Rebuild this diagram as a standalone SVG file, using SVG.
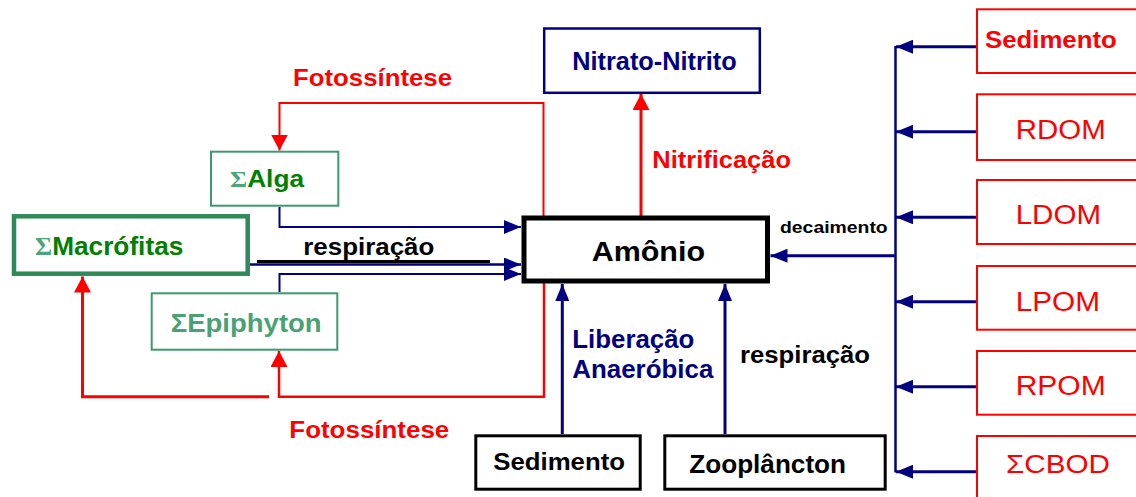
<svg xmlns="http://www.w3.org/2000/svg" width="1136" height="497" viewBox="0 0 1136 497">
<style>
text{font-family:"Liberation Sans",Arial,sans-serif;font-weight:bold}
.reg{font-weight:normal}
.red{fill:#ff0000}
.navy{fill:#000080}
.blk{fill:#000000}
.grn{fill:#008000}
.sig{fill:#4ca57a;font-family:"Liberation Serif","Times New Roman",serif}
.boxr{fill:#fff;stroke:#ff0000;stroke-width:2}
.boxg{fill:#fff;stroke:#3d9a6c;stroke-width:2}
.boxk{fill:#fff;stroke:#000;stroke-width:3}
.cr{fill:none;stroke:#ff0000}
.cn{fill:none;stroke:#000080}
</style>
<defs>
<marker id="ar" markerUnits="userSpaceOnUse" markerWidth="16" markerHeight="17" refX="16" refY="8.5" orient="auto">
<path d="M0,0 L16,8.5 L0,17 z" fill="#ff0000"/>
</marker>
<marker id="an" markerUnits="userSpaceOnUse" markerWidth="17" markerHeight="14" refX="17" refY="7" orient="auto">
<path d="M0,0 L17,7 L0,14 z" fill="#000080"/>
</marker>
</defs>
<rect width="1136" height="497" fill="#ffffff"/>
<g id="connectors">
<line class="cr" x1="641" y1="216" x2="641" y2="94" stroke-width="3" marker-end="url(#ar)"/>
<polyline class="cr" points="543.5,216 543.5,103 279.5,103 279.5,150.5" stroke-width="2" marker-end="url(#ar)"/>
<polyline class="cr" points="544,283 544,396.7 279,396.7 279,351" stroke-width="2.5" marker-end="url(#ar)"/>
<polyline class="cr" points="269,396.7 82.5,396.7 82.5,276.5" stroke-width="3" marker-end="url(#ar)"/>
<polyline class="cn" points="279.5,207 279.5,227 521,227" stroke-width="2" marker-end="url(#an)"/>
<line class="cn" x1="250" y1="264.5" x2="521" y2="264.5" stroke-width="2.5" marker-end="url(#an)"/>
<line x1="257" y1="261.5" x2="490" y2="261.5" stroke="#000" stroke-width="3"/>
<polyline class="cn" points="279.5,292 279.5,274 521,274" stroke-width="2" marker-end="url(#an)"/>
<line class="cn" x1="562.3" y1="434" x2="562.3" y2="284" stroke-width="3" marker-end="url(#an)"/>
<line class="cn" x1="725" y1="434" x2="725" y2="284" stroke-width="3" marker-end="url(#an)"/>
<line class="cn" x1="895.5" y1="46" x2="895.5" y2="472.5" stroke-width="2.5"/>
<line class="cn" x1="976" y1="46.7" x2="896" y2="46.7" stroke-width="3" marker-end="url(#an)"/>
<line class="cn" x1="976" y1="131.7" x2="896" y2="131.7" stroke-width="3" marker-end="url(#an)"/>
<line class="cn" x1="976" y1="217.3" x2="896" y2="217.3" stroke-width="3" marker-end="url(#an)"/>
<line class="cn" x1="976" y1="301.7" x2="896" y2="301.7" stroke-width="3" marker-end="url(#an)"/>
<line class="cn" x1="976" y1="386.7" x2="896" y2="386.7" stroke-width="3" marker-end="url(#an)"/>
<line class="cn" x1="976" y1="471.7" x2="896" y2="471.7" stroke-width="3" marker-end="url(#an)"/>
<line class="cn" x1="895.5" y1="255.7" x2="770.5" y2="255.7" stroke-width="3" marker-end="url(#an)"/>
<text class="red" x="293" y="86" font-size="24" textLength="159" lengthAdjust="spacingAndGlyphs">Fotossíntese</text>
<text class="red" x="289.3" y="438.3" font-size="23" textLength="160" lengthAdjust="spacingAndGlyphs">Fotossíntese</text>
<text class="red" x="652.3" y="167.7" font-size="23" textLength="138.7" lengthAdjust="spacingAndGlyphs">Nitrificação</text>
<text class="blk" x="780" y="233.3" font-size="17" textLength="107.7" lengthAdjust="spacingAndGlyphs">decaimento</text>
<text class="blk" x="303.3" y="255" font-size="23" textLength="131" lengthAdjust="spacingAndGlyphs">respiração</text>
<text class="blk" x="740" y="363.3" font-size="23" textLength="130" lengthAdjust="spacingAndGlyphs">respiração</text>
<text class="navy" x="572.3" y="348.3" font-size="25" textLength="122" lengthAdjust="spacingAndGlyphs">Liberação</text>
<text class="navy" x="572.3" y="378.3" font-size="25" textLength="141" lengthAdjust="spacingAndGlyphs">Anaeróbica</text>
</g>
<g id="nitrato">
<rect x="544.2" y="28.5" width="215.6" height="64.3" fill="#fff" stroke="#000080" stroke-width="2.5"/>
<text class="navy" x="572.3" y="70" font-size="26" textLength="164.4" lengthAdjust="spacingAndGlyphs">Nitrato-Nitrito</text>
</g>
<g id="amonio">
<rect x="524" y="218" width="243.5" height="63" fill="#fff" stroke="#000" stroke-width="5"/>
<text class="blk" x="591.7" y="261" font-size="28" textLength="113.3" lengthAdjust="spacingAndGlyphs">Amônio</text>
</g>
<g id="alga">
<rect class="boxg" x="211" y="151.7" width="127.3" height="54"/>
<text x="230" y="187.3" font-size="24" textLength="74" lengthAdjust="spacingAndGlyphs"><tspan class="sig">Σ</tspan><tspan class="grn">Alga</tspan></text>
</g>
<g id="macrofitas">
<rect x="14" y="216.3" width="233.7" height="57.4" fill="#fff" stroke="#2e8b57" stroke-width="4.5"/>
<text x="35" y="255" font-size="25.5" textLength="148.3" lengthAdjust="spacingAndGlyphs"><tspan class="sig">Σ</tspan><tspan class="grn">Macrófitas</tspan></text>
</g>
<g id="epiphyton">
<rect class="boxg" x="151.7" y="293.3" width="185.6" height="56.4"/>
<text x="170.7" y="332.3" font-size="25" textLength="151" lengthAdjust="spacingAndGlyphs" fill="#4aa274">ΣEpiphyton</text>
</g>
<g id="sedimento-base">
<rect class="boxk" x="475.8" y="435.8" width="164.4" height="53.4"/>
<text class="blk" x="493.3" y="470" font-size="24" textLength="131.7" lengthAdjust="spacingAndGlyphs">Sedimento</text>
</g>
<g id="zooplancton">
<rect class="boxk" x="664.8" y="435.8" width="220.4" height="53.4"/>
<text class="blk" x="689.3" y="473.3" font-size="25" textLength="156.7" lengthAdjust="spacingAndGlyphs">Zooplâncton</text>
</g>
<g id="sedimento">
<rect class="boxr" x="977" y="9.3" width="170" height="63.7"/>
<text class="red" x="985" y="48.3" font-size="24" textLength="131.7" lengthAdjust="spacingAndGlyphs">Sedimento</text>
</g>
<g id="rdom">
<rect class="boxr" x="977" y="94.3" width="170" height="65.7"/>
<text class="red reg" x="1015.7" y="139.3" font-size="27" textLength="90" lengthAdjust="spacingAndGlyphs">RDOM</text>
</g>
<g id="ldom">
<rect class="boxr" x="977" y="180" width="170" height="64"/>
<text class="red reg" x="1015.7" y="224" font-size="27" textLength="85.3" lengthAdjust="spacingAndGlyphs">LDOM</text>
</g>
<g id="lpom">
<rect class="boxr" x="977" y="266" width="170" height="63.7"/>
<text class="red reg" x="1015.7" y="310.7" font-size="27" textLength="84.3" lengthAdjust="spacingAndGlyphs">LPOM</text>
</g>
<g id="rpom">
<rect class="boxr" x="977" y="351" width="170" height="63.7"/>
<text class="red reg" x="1015.7" y="395.3" font-size="27" textLength="90" lengthAdjust="spacingAndGlyphs">RPOM</text>
</g>
<g id="cbod">
<rect class="boxr" x="977" y="436" width="170" height="70"/>
<text class="red reg" x="1006" y="473.3" font-size="26" textLength="104" lengthAdjust="spacingAndGlyphs">ΣCBOD</text>
</g>
</svg>
